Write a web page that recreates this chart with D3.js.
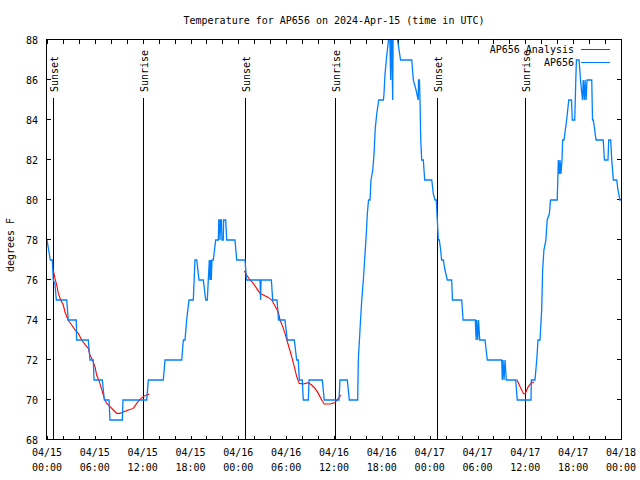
<!DOCTYPE html>
<html><head><meta charset="utf-8">
<script src="https://cdn.jsdelivr.net/npm/d3@7"></script>
<style>
body{margin:0;background:#fff}
svg{display:block}
text{font-family:"DejaVu Sans Mono","Liberation Mono",monospace;font-size:10px;fill:#000}
</style></head><body>
<svg id="c" width="640" height="480"></svg>
<script>
const title = "Temperature for AP656 on 2024-Apr-15 (time in UTC)";
const yLabel = "degrees F";
const seriesNames = ["AP656 Analysis", "AP656"];
const seriesColors = ["#ff0000", "#0080ff"];
const startDate = "2024-04-15T00:00:00Z";
const xTickHours = [0, 6, 12, 18, 24, 30, 36, 42, 48, 54, 60, 66, 72];
const xMinorHours = d3.range(0, 73, 2);
const yTicks = [68, 70, 72, 74, 76, 78, 80, 82, 84, 86, 88];
const eventLabels = ["Sunset", "Sunrise", "Sunset", "Sunrise", "Sunset", "Sunrise"];
const eventHours = [0.79, 12.0, 24.87, 36.09, 48.96, 60.0];

// AP656 observations: hours after start, temperature (F)
const obsHours = [0.00,0.29,0.41,0.66,0.79,1.00,1.17,2.47,2.67,3.67,3.71,5.18,5.39,5.81,5.90,6.94,7.19,7.78,7.90,9.45,9.53,12.51,12.71,14.59,14.80,16.90,17.10,17.31,17.52,17.81,18.35,18.56,18.78,19.07,19.61,19.91,20.11,20.23,20.36,20.44,20.53,20.60,20.70,20.86,21.16,21.49,21.55,21.64,21.70,21.79,21.89,21.95,22.11,22.16,22.42,22.54,23.58,23.80,24.84,25.02,26.72,26.79,26.85,28.14,28.31,28.85,29.04,29.85,30.14,31.02,31.32,31.52,31.65,32.02,32.15,32.78,32.87,34.53,34.78,36.63,36.75,37.67,37.92,38.97,39.05,39.26,39.48,39.68,39.89,40.08,40.18,40.33,40.52,40.64,40.86,41.02,41.18,41.36,41.61,42.19,42.27,42.40,42.61,42.84,42.96,43.11,43.21,43.36,43.43,43.87,43.97,44.35,45.75,45.95,46.29,46.57,46.60,46.72,46.79,46.88,47.00,47.20,47.38,48.26,48.46,48.67,48.83,48.96,49.08,49.21,49.38,49.50,49.71,49.92,50.21,50.76,50.86,52.02,52.19,53.73,53.82,53.90,54.03,54.13,54.28,54.40,54.94,55.23,57.04,57.11,57.20,57.33,57.45,57.61,58.79,58.99,60.71,60.75,61.21,61.43,61.59,61.84,62.05,62.17,62.33,62.58,62.74,63.01,63.16,64.00,64.14,64.28,64.35,64.47,64.60,64.68,64.85,65.18,65.45,65.79,65.89,66.20,66.33,66.41,66.74,66.92,67.17,67.26,67.40,67.49,67.62,67.74,68.33,68.43,68.53,68.87,69.77,69.92,70.37,70.46,70.71,70.84,71.04,71.46,71.62,71.87,72.00];
const obsTemps = [78,77.3,77,77,76,75.8,75,75,74,74,73,73,72,72,71,71,70,70,69,69,70,70,71,71,72,72,73,73,74,75,75,77,77,76,76,75,75,76,77,76,77,76,77,77,78,78,79,79,78,79,79,78,78,79,79,78,78,77,77,76,76,75,76,76,75,75,74,74,73,73,72,72,71,71,70,70,71,71,70,70,71,71,70,70,72,73.5,75,76,77.3,78.5,79.3,80,80,81,81.5,82.3,83.6,84.3,85,85,85.3,86.3,87.2,88,89,86,89,85,89,89,88,87,87,86,85.5,85,86,86,85,83,82,82,81,81,80.3,80,80,79,78,78,77.5,77,77,76.5,76,76,75,75,74,74,73,74,73,74,73,73,73,72,72,71,72,71,72,71,71,70,70,71,71,72,73,73,74.5,76.5,77.5,78,79,79.3,80,80,82,81.3,82,81.3,82,83,83,84,85,85,84,84,86,87,87,86,85,86,85,86,85,86,86,84,84,83,83,82,82,83,83,82,81,81,80.5,80,80];

// AP656 Analysis (NaN separates segments)
const anaHours = [0.79,1.00,1.22,1.42,1.72,2.04,2.26,2.67,3.10,3.51,3.93,4.35,4.77,5.18,5.39,5.73,6.02,6.23,6.56,6.86,7.19,7.49,7.90,8.32,8.74,9.16,9.57,10.20,10.83,11.25,11.67,12.08,12.51,12.83,NaN,
 24.75,25.05,25.46,25.88,26.30,26.72,27.13,27.76,28.19,28.60,29.01,29.23,29.57,29.85,30.27,30.69,31.02,31.32,31.65,32.15,32.78,33.20,33.62,34.03,34.46,34.78,35.50,36.13,36.54,36.88,NaN,
 58.92,59.33,59.75,59.96,60.37,60.80,61.09];
const anaTemps = [76.5,76.08,75.75,75.33,75,74.75,74.4,73.97,73.75,73.5,73.33,73.0,72.78,72.58,72.25,71.97,71.67,71.25,70.92,70.53,70.08,69.83,69.67,69.5,69.33,69.33,69.4,69.5,69.58,69.83,70.03,70.17,70.25,70.3,NaN,
 76.45,76.25,76.0,75.83,75.58,75.33,75.25,75.13,75,74.7,74.42,74,73.67,73.33,72.75,72.17,71.67,71.17,70.83,70.8,70.87,70.75,70.58,70.33,70.0,69.8,69.8,69.87,70.08,70.25,NaN,
 71.03,70.67,70.33,70.3,70.67,70.87,70.9];

const t0 = new Date(startDate).getTime();
const toDate = h => new Date(t0 + h * 3600e3);

const L = 47, R = 621, T = 40, B = 440;
const svg = d3.select("#c");
const x = d3.scaleUtc().domain([toDate(0), toDate(72)]).range([L, R]);
const y = d3.scaleLinear().domain([68, 88]).range([B, T]);

svg.append("defs").append("clipPath").attr("id", "clip")
  .append("rect").attr("x", L).attr("y", T).attr("width", R - L).attr("height", B - T);

// title
svg.append("text").attr("x", (L + R) / 2).attr("y", 24).attr("text-anchor", "middle").text(title);
// y label
svg.append("text").attr("transform", "translate(14,245) rotate(-90)").attr("text-anchor", "middle").text(yLabel);

const g = svg.append("g").attr("shape-rendering", "crispEdges");
// ticks (mirrored on all sides)
const tl = 4;
xMinorHours.forEach(h => {
  const xx = Math.round(x(toDate(h))) + 0.5;
  g.append("line").attr("x1", xx).attr("x2", xx).attr("y1", B).attr("y2", B - tl).attr("stroke", "#000");
  g.append("line").attr("x1", xx).attr("x2", xx).attr("y1", T).attr("y2", T + tl).attr("stroke", "#000");
});
yTicks.forEach(v => {
  const yy = Math.round(y(v)) - 0.5;
  g.append("line").attr("x1", L).attr("x2", L + tl).attr("y1", yy).attr("y2", yy).attr("stroke", "#000");
  g.append("line").attr("x1", R).attr("x2", R - tl).attr("y1", yy).attr("y2", yy).attr("stroke", "#000");
  svg.append("text").attr("x", 38).attr("y", y(v) + 3.5).attr("text-anchor", "end").text(v);
});
const fmtD = d3.utcFormat("%m/%d"), fmtT = d3.utcFormat("%H:%M");
xTickHours.forEach(h => {
  const d = toDate(h);
  const tx = svg.append("text").attr("x", x(d)).attr("text-anchor", "middle");
  tx.append("tspan").attr("x", x(d)).attr("y", 456).text(fmtD(d));
  tx.append("tspan").attr("x", x(d)).attr("y", 471).text(fmtT(d));
});

// sunrise / sunset markers
eventHours.forEach((h, i) => {
  const xx = Math.round(x(toDate(h))) + 0.5;
  g.append("line").attr("x1", xx).attr("x2", xx).attr("y1", y(85.1)).attr("y2", B)
    .attr("stroke", "#000").attr("stroke-width", 1);
  svg.append("text").attr("transform", `translate(${xx + 4},92) rotate(-90)`).text(eventLabels[i]);
});

// series
const obs = obsHours.map((h, i) => ({d: toDate(h), v: obsTemps[i]}));
const ana = anaHours.map((h, i) => ({d: isNaN(h) ? null : toDate(h), v: anaTemps[i]}));
const line = d3.line().defined(p => p.d && !isNaN(p.v)).x(p => x(p.d)).y(p => y(p.v));
const plot = svg.append("g").attr("clip-path", "url(#clip)");
plot.append("path").datum(ana).attr("d", line).attr("fill", "none")
  .attr("stroke", seriesColors[0]).attr("stroke-width", 1.1);
plot.append("path").datum(obs).attr("d", line).attr("fill", "none")
  .attr("stroke", seriesColors[1]).attr("stroke-width", 1.3).attr("stroke-linejoin", "miter");

// border
g.append("rect").attr("x", L - 0.5).attr("y", T - 0.5).attr("width", R - L + 1).attr("height", B - T)
  .attr("fill", "none").attr("stroke", "#000");

// legend
seriesNames.forEach((n, i) => {
  const ly = 49.5 + i * 13;
  svg.append("text").attr("x", 574).attr("y", ly + 3.5).attr("text-anchor", "end").text(n);
  svg.append("line").attr("x1", 581).attr("x2", 610).attr("y1", ly).attr("y2", ly)
    .attr("stroke", seriesColors[i]).attr("stroke-width", i ? 1.3 : 1.1).attr("shape-rendering", "crispEdges");
});
</script>
</body></html>
